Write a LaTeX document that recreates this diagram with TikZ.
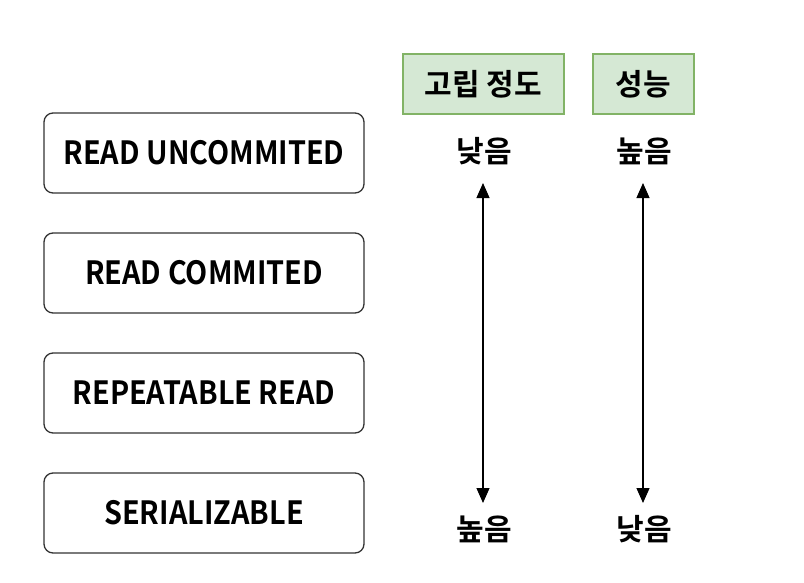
\documentclass[tikz,border=0pt]{standalone}
\usepackage{fontspec}
\setmainfont{Noto Sans CJK KR}[BoldFont={* Bold}]
\newfontfamily\latinf{Noto Sans CJK KR}[BoldFont={* Bold}, BoldFeatures={FakeStretch=0.9}]
\usetikzlibrary{arrows.meta}
\definecolor{hdrfill}{HTML}{D5E8D4}
\definecolor{hdrline}{HTML}{82B366}
\definecolor{boxline}{HTML}{333333}
\tikzset{
  level/.style={draw=boxline, line width=1.3pt, rounded corners=9pt, minimum width=320pt, minimum height=80pt, inner sep=0pt, font=\latinf\fontsize{32}{34}\selectfont\bfseries},
  hdr/.style={draw=hdrline, fill=hdrfill, line width=1.3pt, minimum height=60pt, inner sep=0pt, font=\fontsize{30}{32}\selectfont\bfseries},
  lbl/.style={inner sep=0pt, font=\fontsize{30}{32}\selectfont\bfseries},
  dbl/.style={line width=1.2pt, {Triangle[width=13pt,length=15pt]}-{Triangle[width=13pt,length=15pt]}}
}
\begin{document}
\begin{tikzpicture}[x=1pt,y=-1pt]
\useasboundingbox (0,0) rectangle (804,582);
\node[level] (ru) at (204,153) {READ UNCOMMITED};
\node[level] (rc) at (204,273) {READ COMMITED};
\node[level] (rr) at (204,393) {REPEATABLE READ};
\node[level] (se) at (204,513) {SERIALIZABLE};
\node[hdr, minimum width=161pt] (h1) at (483.5,84) {고립 정도};
\node[hdr, minimum width=101pt] (h2) at (643.5,84) {성능};
\node[lbl] (t1) at (484,151) {낮음};
\node[lbl] (t2) at (644,151) {높음};
\node[lbl] (b1) at (484,529) {높음};
\node[lbl] (b2) at (644,529) {낮음};
\coordinate (a1) at (483,183);
\coordinate (a2) at (483,503);
\coordinate (c1) at (643,183);
\coordinate (c2) at (643,503);
\draw[dbl] (a1) -- (a2);
\draw[dbl] (c1) -- (c2);
\end{tikzpicture}
\end{document}
